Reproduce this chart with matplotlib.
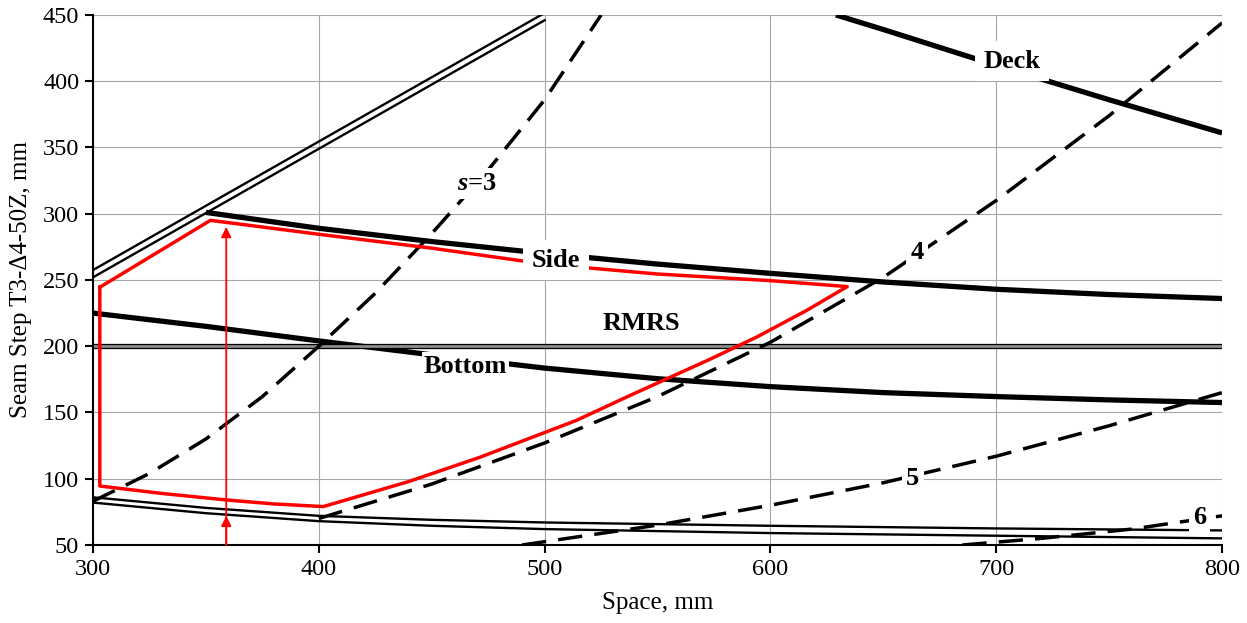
import numpy as np
import matplotlib
matplotlib.use('Agg')
import matplotlib.pyplot as plt

plt.rcParams['font.family'] = ['Liberation Serif', 'DejaVu Serif']
plt.rcParams['mathtext.fontset'] = 'custom'
plt.rcParams['mathtext.it'] = 'Liberation Serif:italic:bold'
plt.rcParams['mathtext.rm'] = 'Liberation Serif:bold'

# upper limit (double line)
upper_x = [300, 350, 400, 450, 500]
upper_a = [257.5, 306, 354.5, 403, 451.5]
upper_b = [252, 300.5, 349, 397.5, 446]

# lower limit (double line)
lower_x = [300, 350, 400, 450, 500, 600, 700, 800]
lower_a = [86, 78, 72, 69, 67, 64.5, 62.5, 61]
lower_b = [82, 74, 68, 64.5, 62, 59, 57, 55]

# structure curves
deck_x = [629, 650, 700, 750, 800]
deck_y = [450, 439, 412, 386, 361]
side_x = [350, 400, 450, 500, 550, 600, 650, 700, 750, 800]
side_y = [301, 289, 279, 270, 262, 255, 248.5, 243, 239, 236]
bottom_x = [300, 350, 400, 450, 500, 550, 600, 650, 700, 750, 800]
bottom_y = [225, 215, 204, 193.5, 183.5, 175.5, 169.5, 165, 162, 159.5, 157.5]
rmrs_y = 200

# s curves (dashed)
s3_x = [300, 325, 350, 375, 400, 425, 450, 475, 500, 525]
s3_y = [83, 104, 130, 162, 200, 240, 285, 333, 386, 450]
s4_x = [400, 450, 500, 550, 600, 650, 700, 750, 800]
s4_y = [70, 96, 127, 162, 203, 252, 310, 374, 444]
s5_x = [490, 550, 600, 650, 700, 750, 800]
s5_y = [50, 65, 80, 97, 117, 140, 165]
s6_x = [685, 720, 760, 800]
s6_y = [50, 55, 62, 72]

# feasible region (red)
region_x = [303, 352, 400, 450, 500, 550, 600, 634, 616, 594, 573, 538, 514,
            471, 440, 402, 380, 359, 330, 303, 303]
region_y = [244.5, 295, 284.5, 274, 262, 254.5, 249.5, 245, 227, 207, 190, 163, 144,
            116, 98, 79, 81, 84, 89, 94.5, 244.5]
arrow_x = 359
arrow_top = 290
arrow_mid = 72

# text, x, y, white box padding
labels = [('Deck', 707, 415, 6), ('Side', 505, 265, 6), ('Bottom', 465, 185, 1.5),
          ('RMRS', 543, 217, 2), (r'$\mathit{s}$=3', 470, 323, 3), ('4', 665, 271, 3),
          ('5', 663, 100, 3), ('6', 790, 71, 3)]

fig = plt.figure(figsize=(12.47, 6.23), dpi=100)
ax = fig.add_axes([0.0746, 0.1252, 0.9054, 0.8508])

ax.set_xlim(300, 800)
ax.set_ylim(50, 450)
ax.set_xticks(np.arange(300, 801, 100))
ax.set_yticks(np.arange(50, 451, 50))
ax.grid(True, color='#a6a6a6', lw=0.8)
ax.set_axisbelow(True)
for s in ['top', 'right']:
    ax.spines[s].set_visible(False)
for s in ['left', 'bottom']:
    ax.spines[s].set_linewidth(1.5)
ax.tick_params(direction='out', length=6, width=1.5, labelsize=17.5, pad=4)

ax.plot(upper_x, upper_a, color='black', lw=1.7)
ax.plot(upper_x, upper_b, color='black', lw=1.7)
ax.plot(lower_x, lower_a, color='black', lw=1.7)
ax.plot(lower_x, lower_b, color='black', lw=1.7)

for xs, ys in [(deck_x, deck_y), (side_x, side_y), (bottom_x, bottom_y)]:
    ax.plot(xs, ys, color='black', lw=3.8, solid_capstyle='butt')

ax.axhline(rmrs_y, color='black', lw=3.8)
ax.axhline(rmrs_y, color='#8c8c8c', lw=2.0)

for xs, ys in [(s3_x, s3_y), (s4_x, s4_y), (s5_x, s5_y), (s6_x, s6_y)]:
    ax.plot(xs, ys, color='black', lw=2.5, dashes=(7, 3.5))

ax.plot(region_x, region_y, color='red', lw=2.5, zorder=4)
ax.annotate('', xy=(arrow_x, arrow_top), xytext=(arrow_x, 50),
            arrowprops=dict(arrowstyle='-|>', color='red', lw=1.3,
                            mutation_scale=15, shrinkA=0, shrinkB=0), zorder=4)
ax.annotate('', xy=(arrow_x, arrow_mid), xytext=(arrow_x, 50),
            arrowprops=dict(arrowstyle='-|>', color='red', lw=1.3,
                            mutation_scale=15, shrinkA=0, shrinkB=0), zorder=4)

for txt, x, y, pad in labels:
    ax.text(x, y, txt, ha='center', va='center', fontsize=19, fontweight='bold',
            zorder=6, bbox=dict(facecolor='white', edgecolor='none', pad=pad))

ax.set_xlabel('Space, mm', fontsize=18, labelpad=9)
ax.set_ylabel('Seam Step T3-Δ4-50Z, mm', fontsize=18, labelpad=8)

fig.savefig('out.png', dpi=100)
